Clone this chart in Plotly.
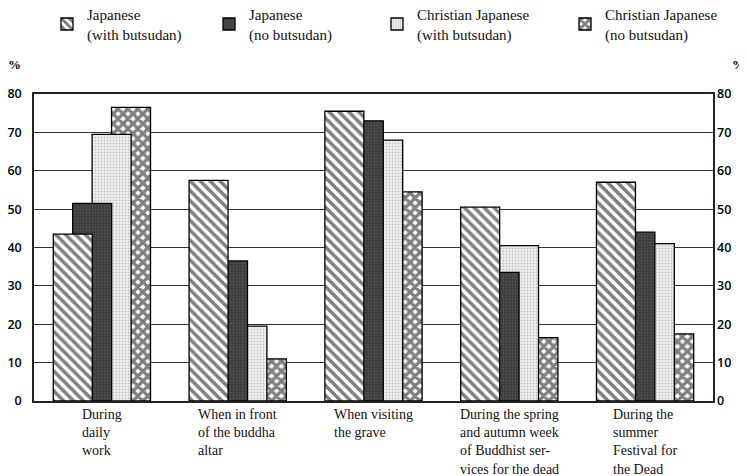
import plotly.graph_objects as go

categories = ["During daily work", "When in front of the buddha altar", "When visiting the grave",
              "During the spring and autumn week of Buddhist services for the dead",
              "During the summer Festival for the Dead"]
category_labels = ["During<br>daily<br>work", "When in front<br>of the buddha<br>altar",
                   "When visiting<br>the grave",
                   "During the spring<br>and autumn week<br>of Buddhist ser-<br>vices for the dead",
                   "During the<br>summer<br>Festival for<br>the Dead"]
series_names = ["Japanese<br>(with butsudan)", "Japanese<br>(no butsudan)",
                "Christian Japanese<br>(with butsudan)", "Christian Japanese<br>(no butsudan)"]
jp_with = [43.5, 57.5, 75.5, 50.5, 57.0]
jp_without = [51.5, 36.5, 73.0, 33.5, 44.0]
cj_with = [69.5, 19.5, 68.0, 40.5, 41.0]
cj_without = [76.5, 11.0, 54.5, 16.5, 17.5]
y_ticks = [0, 10, 20, 30, 40, 50, 60, 70, 80]

series = [jp_with, jp_without, cj_with, cj_without]
patterns = [
    dict(shape="\\", fgcolor="black", bgcolor="white", size=7, solidity=0.5),
    dict(shape=".", fgcolor="#6a6a6a", bgcolor="#3c3c3c", size=3, solidity=0.3),
    dict(shape=".", fgcolor="#9a9a9a", bgcolor="#f0f0f0", size=3, solidity=0.35),
    dict(shape="x", fgcolor="black", bgcolor="white", size=7, solidity=0.72),
]
legend_ids = ["legend", "legend2", "legend3", "legend4"]

W, H = 739, 468          # page adds an 8px body margin
L, R, T, B = 26, 34, 86, 75
PW, PH = W - L - R, H - T - B
legend_x = [39, 201, 369, 557]
legend_top = -10         # px from figure top

bar_w = 0.287
step = 0.143
start = -0.358

fig = go.Figure()
# draw in reverse so the first series is in front
for i in reversed(range(4)):
    fig.add_trace(go.Bar(
        x=categories, y=series[i], name=series_names[i],
        width=bar_w, offset=start + i * step,
        marker=dict(color="white", pattern=patterns[i], line=dict(color="black", width=1.3)),
        legend=legend_ids[i],
    ))

# invisible trace for the right-hand axis
fig.add_trace(go.Scatter(x=categories, y=jp_with, yaxis="y2", mode="markers",
                         marker=dict(opacity=0), showlegend=False, hoverinfo="skip"))

axis_font = dict(family="Open Sans", size=12.5, color="#000", weight=600)
legend_font = dict(family="Liberation Serif", size=15, color="#111")
layout_legends = {}
for lid, lx in zip(legend_ids, legend_x):
    layout_legends[lid] = dict(xref="container", yref="paper", x=lx / W,
                               y=(H - B - legend_top) / PH,
                               xanchor="left", yanchor="top", font=legend_font,
                               bgcolor="rgba(0,0,0,0)", itemwidth=30, tracegroupgap=0)

fig.update_layout(
    width=W, height=H,
    margin=dict(l=L, r=R, t=T, b=B, autoexpand=False),
    paper_bgcolor="white", plot_bgcolor="white",
    barmode="overlay",
    showlegend=True,
    xaxis=dict(type="category", range=[-0.5, 4.5], showticklabels=False, ticks="",
               showline=True, linecolor="#222", linewidth=1.5, mirror=True, showgrid=False,
               zeroline=False),
    yaxis=dict(range=[0, 80], tickvals=y_ticks, showgrid=True, gridcolor="#333", gridwidth=1,
               showline=True, linecolor="#222", linewidth=1.5, mirror=True, ticks="",
               tickfont=axis_font, zeroline=False, ticklabelstandoff=8),
    yaxis2=dict(range=[0, 80], tickvals=y_ticks, overlaying="y", side="right", showgrid=False,
                showline=False, ticks="", tickfont=axis_font, zeroline=False, ticklabelstandoff=3),
    **layout_legends,
)

for cat, lab in zip(categories, category_labels):
    fig.add_annotation(x=cat, y=-0.014, xref="x", yref="paper", text=lab, showarrow=False,
                       xanchor="center", yanchor="top", align="left",
                       font=dict(family="Liberation Serif", size=14, color="#111"))

for px in [6.5, 730]:
    fig.add_annotation(xref="paper", yref="paper", x=(px - L) / PW, y=(H - B - 57) / PH,
                       text="<b>%</b>", showarrow=False, xanchor="center", yanchor="middle",
                       font=dict(family="Liberation Serif", size=13, color="#000"))

fig.write_html("out.html")
